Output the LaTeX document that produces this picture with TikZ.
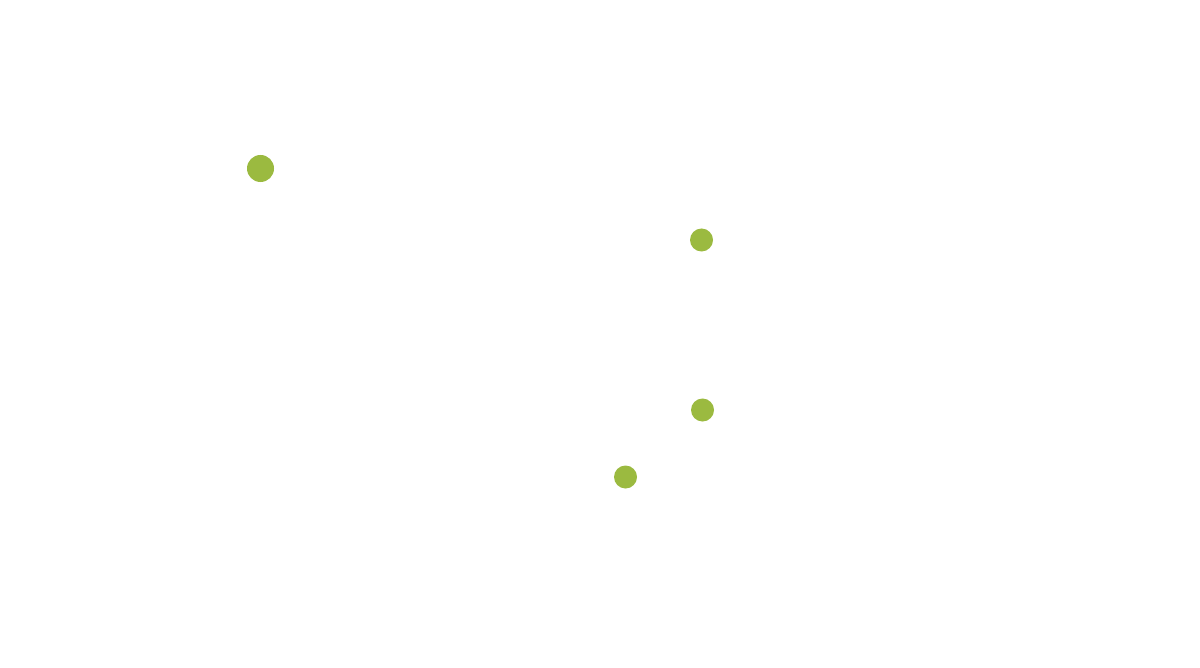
\documentclass[tikz,border=0pt]{standalone}
\usepackage{tikz}
\definecolor{dotgreen}{RGB}{155,186,64}

\begin{document}
\begin{tikzpicture}[x=0.025cm, y=-0.025cm]
    \useasboundingbox (0,0) rectangle (1200,668);
    % \node [inner sep=0.02cm](p) at (260,168) {\textbullet};
    \node [inner sep=0pt, minimum size=0.675cm, circle, fill=dotgreen](p) at (260.5,168.5) {};
    \node [inner sep=0pt, minimum size=0.575cm, circle, fill=dotgreen](q) at (701.5,240) {};
    \node [inner sep=0pt, minimum size=0.575cm, circle, fill=dotgreen](r) at (702.5,410) {};
    \node [inner sep=0pt, minimum size=0.575cm, circle, fill=dotgreen](s) at (625.5,477) {};
\end{tikzpicture}
\end{document}
